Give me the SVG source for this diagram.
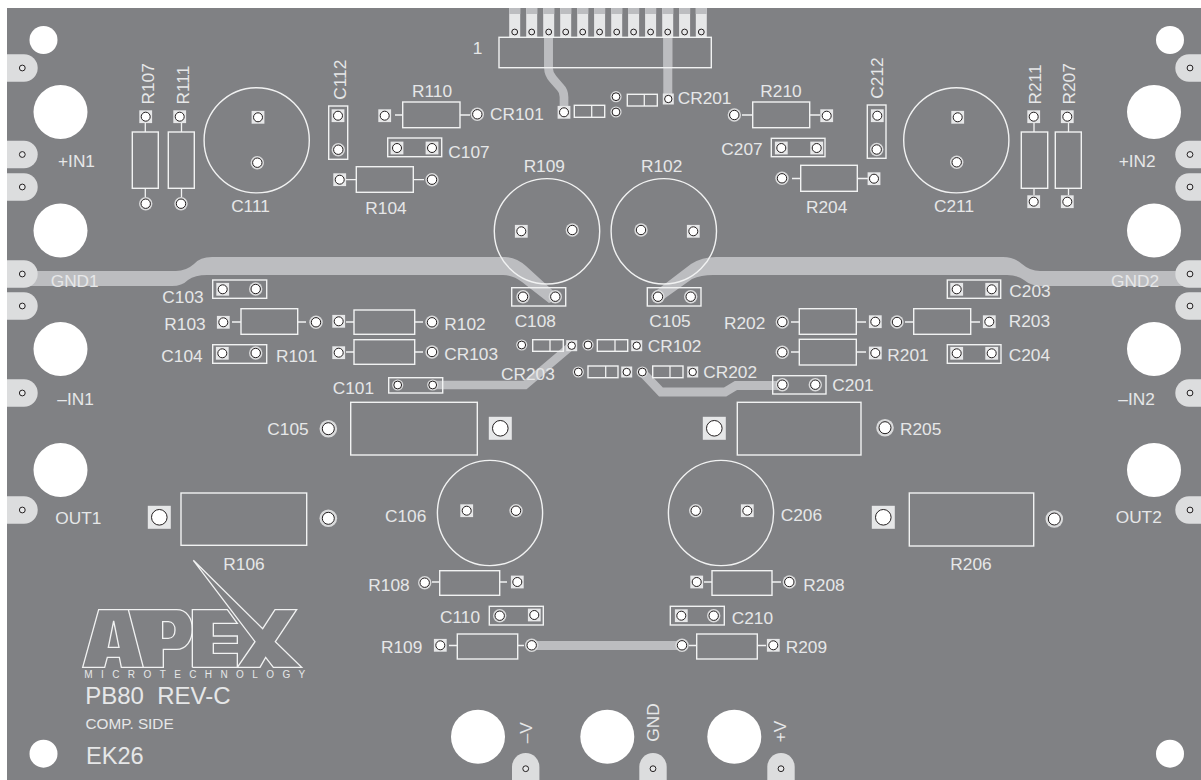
<svg xmlns="http://www.w3.org/2000/svg" width="1201" height="780" viewBox="0 0 1201 780">
<style>
text{font-family:"Liberation Sans",Arial,sans-serif;font-size:17.3px;fill:#e6e7e8;white-space:pre}
.m{text-anchor:middle}
.b{fill:none;stroke:#f1f2f2;stroke-width:1.4}
.t{fill:none;stroke:#bcbdc0}
.f{fill:#bcbdc0}
.tab{fill:#dcddde}
.h{fill:#fff}
.i{fill:#fff;stroke:#231f20;stroke-width:1}
.n{fill:#e6e7e8;stroke:#231f20;stroke-width:1}
.l{fill:none;stroke:#f1f2f2;stroke-width:1.3}
</style>
<defs>
<g id="o"><circle r="6.7" fill="#d9dadb"/><circle r="4.7" class="i"/></g>
<g id="s"><rect x="-6.4" y="-6.4" width="12.8" height="12.8" fill="#e6e7e8"/><circle r="4.5" class="i"/></g>
<g id="p"><circle r="5.6" fill="#d9dadb"/><circle r="3.9" class="i"/></g>
<g id="q"><rect x="-5.5" y="-5.5" width="11" height="11" fill="#e6e7e8"/><circle r="3.7" class="i"/></g>
<g id="O"><circle r="8.8" fill="#d9dadb"/><circle r="6" class="i"/></g>
<g id="S"><rect x="-11.5" y="-11.5" width="23" height="23" fill="#e6e7e8"/><circle r="7.8" class="i"/></g>
<g id="c"><circle r="2.9" class="n"/></g>
<path id="tl" class="tab" d="M7 -13.7H24A13.7 13.7 0 0 1 24 13.7H7Z"/>
<path id="tr" class="tab" d="M1201 -13.7H1189A13.7 13.7 0 0 0 1189 13.7H1201Z"/>
<path id="tb" class="tab" d="M-13.7 27V-2A13.7 13.7 0 0 1 13.7 -2V27Z"/>
<g id="pin"><rect x="-5.5" y="8" width="11" height="29" fill="#e6e7e8"/><rect x="-5.5" y="8" width="11" height="6" fill="#bcbdc0"/></g>
</defs>
<rect width="1201" height="780" fill="#fff"/>
<rect x="7" y="8" width="1194" height="772" fill="#808184"/>

<g id="connectors">
<path class="f" d="M22 271H176Q186 271 194 264Q200 257 212 257H505Q516 257 526 266L561 298L549 303L522 282Q513 275 503 275H207Q195 275 188 280Q182 286 172 286H22Z"/>
<path class="f" d="M1185 271H1040Q1030 271 1022 264Q1014 257 1003 257H716Q702 257 691 264L653 293L661 301L692 279Q701 275 713 275H1007Q1017 275 1024 280Q1031 286 1042 286H1185Z"/>
<path class="t" stroke-width="8.7" d="M548.5 36V68Q548.5 74 553 79L560 87Q564 91 564 97V112"/>
<path class="t" stroke-width="9" d="M667.8 36V99"/>
<path class="t" stroke-width="8.5" d="M432 385H525L571 346"/>
<path class="t" stroke-width="9" d="M642 372L661 392H725L736 385.5H782"/>
<path class="t" stroke-width="9" d="M531.7 645.5H682"/>
</g>

<g id="board-holes">
<circle class="h" cx="43.5" cy="40" r="14"/><circle class="h" cx="43.5" cy="753.7" r="14"/>
<circle class="h" cx="1170" cy="40" r="14"/><circle class="h" cx="1170" cy="753.7" r="14"/>
<circle class="h" cx="60.5" cy="112" r="27"/><circle class="h" cx="60.5" cy="230.5" r="27"/><circle class="h" cx="60.5" cy="349" r="27"/><circle class="h" cx="60.5" cy="470" r="27"/>
<circle class="h" cx="1154" cy="112" r="27"/><circle class="h" cx="1154" cy="230.5" r="27"/><circle class="h" cx="1154" cy="349" r="27"/><circle class="h" cx="1154" cy="470" r="27"/>
<circle class="h" cx="478" cy="736.7" r="27"/><circle class="h" cx="607.3" cy="736.7" r="27"/><circle class="h" cx="734.3" cy="736.7" r="27"/>
</g>

<g id="edge-tabs">
<use href="#tl" y="68"/><use href="#tl" y="154.5"/><use href="#tl" y="187"/><use href="#tl" y="274"/><use href="#tl" y="306"/><use href="#tl" y="393"/><use href="#tl" y="510"/>
<use href="#tr" y="68"/><use href="#tr" y="154.5"/><use href="#tr" y="187"/><use href="#tr" y="274"/><use href="#tr" y="306"/><use href="#tr" y="393"/><use href="#tr" y="510"/>
<use href="#tb" x="525.7" y="768.7"/><use href="#tb" x="653" y="768.7"/><use href="#tb" x="781" y="768.7"/>
<use href="#c" x="22.3" y="68"/><use href="#c" x="22.3" y="154.5"/><use href="#c" x="22.3" y="187"/><use href="#c" x="22.3" y="274"/><use href="#c" x="22.3" y="306"/><use href="#c" x="22.3" y="393"/><use href="#c" x="22.3" y="510"/>
<use href="#c" x="1190" y="68"/><use href="#c" x="1190" y="154.5"/><use href="#c" x="1190" y="187"/><use href="#c" x="1190" y="274"/><use href="#c" x="1190" y="306"/><use href="#c" x="1190" y="393"/><use href="#c" x="1190" y="510"/>
<use href="#c" x="525.7" y="768.7"/><use href="#c" x="653" y="768.7"/><use href="#c" x="781" y="768.7"/>
</g>

<g id="J1">
<g id="J1-pins">
<use href="#pin" x="514.7"/><use href="#pin" x="531.7"/><use href="#pin" x="548.7"/><use href="#pin" x="565.7"/><use href="#pin" x="582.7"/><use href="#pin" x="599.6"/><use href="#pin" x="616.7"/><use href="#pin" x="633.6"/><use href="#pin" x="650.6"/><use href="#pin" x="667.7"/><use href="#pin" x="684.6"/><use href="#pin" x="701.3"/>
<use href="#c" x="514.7" y="32"/><use href="#c" x="531.7" y="32"/><use href="#c" x="548.7" y="32"/><use href="#c" x="565.7" y="32"/><use href="#c" x="582.7" y="32"/><use href="#c" x="599.6" y="32"/><use href="#c" x="616.7" y="32"/><use href="#c" x="633.6" y="32"/><use href="#c" x="650.6" y="32"/><use href="#c" x="667.7" y="32"/><use href="#c" x="684.6" y="32"/><use href="#c" x="701.3" y="32"/>
</g>
<path class="t" stroke-width="8.7" d="M548.5 37.5V67.5"/><path class="t" stroke-width="9" d="M667.8 37.5V67.5"/>
<rect class="b" x="499" y="37.3" width="212.3" height="30.4"/>
<text x="472.7" y="54">1</text>
</g>

<g id="R107"><rect class="b" x="132.3" y="132" width="26" height="56.3"/><path class="l" d="M145.3 123V132M145.3 188V197"/><use href="#s" x="145.7" y="116.7"/><use href="#o" x="145.7" y="203.7"/><text transform="translate(154 104.5) rotate(-90)">R107</text></g>
<g id="R111"><rect class="b" x="168.3" y="132" width="26" height="56.3"/><path class="l" d="M181.5 123V132M181.5 188V197"/><use href="#s" x="179.7" y="116.7"/><use href="#o" x="181" y="203.7"/><text transform="translate(189 104.5) rotate(-90)">R111</text></g>
<g id="C111"><circle class="b" cx="256.7" cy="140.3" r="52.6"/><use href="#s" x="258" y="117.3"/><use href="#o" x="257.3" y="162.7"/><text class="m" x="250.5" y="212">C111</text></g>
<g id="C112"><rect class="b" x="328.7" y="106" width="19" height="53.3"/><use href="#s" x="338" y="115.7"/><use href="#o" x="338.3" y="149.7"/><text transform="translate(346 99.7) rotate(-90)">C112</text></g>
<g id="R110"><rect class="b" x="402.7" y="102" width="57.3" height="25.7"/><path class="l" d="M395 115H402.7M460 115H470"/><use href="#s" x="384.7" y="115.7"/><use href="#o" x="477.3" y="114.3"/><text class="m" x="432" y="97.3">R110</text></g>
<g id="C107"><rect class="b" x="387.7" y="138" width="54" height="18.7"/><use href="#s" x="397" y="148"/><use href="#s" x="432" y="148"/><text x="448.3" y="158">C107</text></g>
<g id="R104"><rect class="b" x="356.3" y="166.7" width="57" height="25.6"/><path class="l" d="M346 179.7H356.3M413.3 179.7H424"/><use href="#s" x="339.7" y="179.7"/><use href="#o" x="432" y="179.7"/><text class="m" x="386" y="214">R104</text></g>
<g id="CR101"><rect class="b" x="574.3" y="105.3" width="30.4" height="12"/><path class="l" d="M591.7 105.3V117.3"/><use href="#s" x="564" y="112.3"/><use href="#p" x="616" y="112"/><text x="490" y="120">CR101</text></g>
<g id="CR201"><rect class="b" x="627.3" y="94.3" width="30" height="11.7"/><path class="l" d="M644.3 94.3V106"/><use href="#p" x="616" y="96.7"/><use href="#q" x="668.3" y="99"/><text x="677.7" y="103.7">CR201</text></g>
<g id="R210"><rect class="b" x="752.7" y="102" width="57" height="25.7"/><path class="l" d="M742 115H752.7M809.7 115H820"/><use href="#o" x="734.3" y="115"/><use href="#s" x="826.7" y="115.7"/><text class="m" x="781" y="97">R210</text></g>
<g id="C207"><rect class="b" x="771.3" y="138.3" width="53.7" height="18.4"/><use href="#s" x="781.3" y="148"/><use href="#s" x="816.7" y="148"/><text x="721.3" y="155">C207</text></g>
<g id="R204"><rect class="b" x="800.7" y="165.3" width="56.6" height="26"/><path class="l" d="M792 178.5H800.7M857.3 178.5H868"/><use href="#o" x="782" y="178.3"/><use href="#s" x="874" y="178.7"/><text class="m" x="826.7" y="212.7">R204</text></g>
<g id="C212"><rect class="b" x="867.3" y="105" width="18.7" height="53.3"/><use href="#s" x="877.3" y="115.7"/><use href="#o" x="876.7" y="149.5"/><text transform="translate(883 98.7) rotate(-90)">C212</text></g>
<g id="C211"><circle class="b" cx="956.3" cy="140.3" r="52.6"/><use href="#s" x="957.7" y="117.3"/><use href="#o" x="956.7" y="162.3"/><text class="m" x="954" y="212">C211</text></g>
<g id="R211"><rect class="b" x="1021.3" y="132" width="26.4" height="56.3"/><path class="l" d="M1034 123V132M1034 188V195"/><use href="#s" x="1033.7" y="116.7"/><use href="#s" x="1033.7" y="201.7"/><text transform="translate(1040.7 104.5) rotate(-90)">R211</text></g>
<g id="R207"><rect class="b" x="1055.3" y="132" width="26" height="56.3"/><path class="l" d="M1068.5 123V132M1068.5 188V195"/><use href="#s" x="1067.3" y="116.7"/><use href="#s" x="1067.3" y="201.7"/><text transform="translate(1075 104.5) rotate(-90)">R207</text></g>

<g id="R109-top"><circle class="b" cx="547" cy="231.3" r="52.7"/><use href="#s" x="521.3" y="231.3"/><use href="#o" x="572.3" y="230"/><text class="m" x="544.3" y="171.7">R109</text></g>
<g id="R102-top"><circle class="b" cx="663.8" cy="231.3" r="52.7"/><use href="#o" x="641" y="230"/><use href="#s" x="693.3" y="231.3"/><text class="m" x="661.7" y="171.7">R102</text></g>
<g id="C108"><rect class="b" x="511.7" y="287.7" width="54" height="18.3"/><use href="#o" x="523" y="296.7"/><use href="#o" x="555.3" y="296.7"/><text class="m" x="535.3" y="327.3">C108</text></g>
<g id="C105-top"><rect class="b" x="647.3" y="287.7" width="53.7" height="18.3"/><use href="#o" x="658" y="296.7"/><use href="#o" x="690.7" y="296.7"/><text class="m" x="670" y="327.3">C105</text></g>

<g id="C103"><rect class="b" x="212.7" y="280" width="54" height="18.3"/><use href="#s" x="222.7" y="289.3"/><use href="#o" x="255.7" y="289"/><text x="162.3" y="302.7">C103</text></g>
<g id="R103"><rect class="b" x="241" y="308.7" width="56.7" height="25.6"/><path class="l" d="M232 322H241M297.7 322H306"/><use href="#s" x="223.3" y="322.3"/><use href="#o" x="316" y="322.3"/><text x="164.3" y="330">R103</text></g>
<g id="R102"><rect class="b" x="354" y="310" width="60.7" height="24.3"/><path class="l" d="M346 322H354M414.7 322H423"/><use href="#s" x="338.7" y="321.3"/><use href="#o" x="432" y="322.3"/><text x="444.3" y="330">R102</text></g>
<g id="R101"><rect class="b" x="354" y="339.7" width="60.7" height="24.6"/><path class="l" d="M346 352H354M414.7 352H423"/><use href="#s" x="338.7" y="352.7"/><use href="#o" x="432" y="352"/><text x="276" y="362.3">R101</text><text x="444.3" y="360">CR103</text></g>
<g id="C104"><rect class="b" x="212.7" y="344.7" width="54" height="18.6"/><use href="#s" x="222.3" y="353.3"/><use href="#o" x="255.7" y="353"/><text x="161.3" y="362">C104</text></g>
<g id="C101"><rect class="b" x="388.7" y="377.7" width="54" height="15.3"/><use href="#p" x="397.7" y="385"/><use href="#p" x="432.7" y="385"/><text x="332.7" y="394">C101</text></g>

<g id="CR203"><rect class="b" x="532.7" y="339.7" width="30.6" height="11.6"/><path class="l" d="M550 339.7V351.3"/><use href="#p" x="521.7" y="345"/><use href="#q" x="571.7" y="345.7"/><text x="501" y="380">CR203</text></g>
<g id="CR102"><rect class="b" x="597.3" y="339.7" width="30.4" height="11.6"/><path class="l" d="M615 339.7V351.3"/><use href="#p" x="588" y="345"/><use href="#q" x="636.7" y="345.7"/><text x="647.7" y="351.7">CR102</text></g>
<g id="CR103"><rect class="b" x="588" y="366" width="30" height="11.7"/><path class="l" d="M605.7 366V377.7"/><use href="#p" x="578.3" y="372"/><use href="#q" x="626.7" y="372"/></g>
<g id="CR202"><rect class="b" x="652.7" y="366" width="30.3" height="11.7"/><path class="l" d="M670 366V377.7"/><use href="#p" x="642.3" y="372"/><use href="#q" x="692.7" y="372"/><text x="703.3" y="378.3">CR202</text></g>

<g id="C201"><rect class="b" x="772.7" y="375.7" width="53.3" height="18.3"/><use href="#o" x="782.3" y="384.7"/><use href="#o" x="815.3" y="384.7"/><text x="832.3" y="391">C201</text></g>
<g id="R202"><rect class="b" x="799.3" y="308.7" width="57" height="25.6"/><path class="l" d="M791 322H799.3M856.3 322H866"/><use href="#o" x="782.3" y="322"/><use href="#s" x="875.3" y="321.7"/><text x="724" y="329">R202</text></g>
<g id="R203"><rect class="b" x="913.7" y="308.7" width="57" height="25.6"/><path class="l" d="M905 322H913.7M970.7 322H980"/><use href="#o" x="897" y="322"/><use href="#s" x="989.3" y="321.7"/><text x="1008.7" y="327.3">R203</text></g>
<g id="R201"><rect class="b" x="799.3" y="339.3" width="57" height="25.7"/><path class="l" d="M791 352H799.3M856.3 352H866"/><use href="#o" x="782.3" y="352.3"/><use href="#s" x="875.3" y="353"/><text x="887.3" y="361">R201</text></g>
<g id="C203"><rect class="b" x="947.3" y="280" width="53.4" height="18.3"/><use href="#s" x="956.7" y="289.3"/><use href="#s" x="991.7" y="289.3"/><text x="1009.3" y="296.7">C203</text></g>
<g id="C204"><rect class="b" x="947.3" y="344.7" width="53.7" height="18.6"/><use href="#s" x="956.7" y="353.3"/><use href="#s" x="991.7" y="353.3"/><text x="1008.7" y="361">C204</text></g>

<g id="C105"><rect class="b" x="350.7" y="402.3" width="126.6" height="52.7"/><use href="#O" x="328.3" y="428.7"/><use href="#S" x="500.3" y="428.3"/><text x="267.3" y="435.3">C105</text></g>
<g id="R205"><rect class="b" x="737.3" y="402.3" width="123.7" height="52.7"/><use href="#S" x="714.3" y="428.3"/><use href="#O" x="885" y="427.7"/><text x="900" y="434.7">R205</text></g>
<g id="R106"><rect class="b" x="181" y="493" width="125.7" height="52.3"/><use href="#S" x="159.3" y="517.3"/><use href="#O" x="328.3" y="518.3"/><text class="m" x="244" y="570">R106</text></g>
<g id="R206"><rect class="b" x="909.3" y="493" width="124.4" height="53"/><use href="#S" x="883.3" y="517.3"/><use href="#O" x="1054.3" y="519"/><text class="m" x="971" y="570">R206</text></g>

<g id="C106"><circle class="b" cx="490" cy="513" r="52.6"/><use href="#s" x="466.7" y="510.7"/><use href="#o" x="516" y="510.7"/><text x="385" y="521.7">C106</text></g>
<g id="C206"><circle class="b" cx="721" cy="513" r="52.6"/><use href="#o" x="695.7" y="510.7"/><use href="#s" x="747.3" y="510.7"/><text x="780.7" y="520.7">C206</text></g>
<g id="R108"><rect class="b" x="439.7" y="570.7" width="60" height="24.6"/><path class="l" d="M432 582H439.7M499.7 582H507"/><use href="#o" x="424.7" y="582.7"/><use href="#s" x="517.3" y="582"/><text x="368.3" y="590.7">R108</text></g>
<g id="R208"><rect class="b" x="712" y="570.7" width="60" height="24.6"/><path class="l" d="M704 582H712M772 582H781"/><use href="#s" x="696.7" y="582"/><use href="#o" x="789.3" y="582"/><text x="803.3" y="590.7">R208</text></g>
<g id="C110"><rect class="b" x="489.3" y="606.3" width="54" height="18.7"/><use href="#o" x="499.7" y="615.7"/><use href="#s" x="534.3" y="615"/><text x="440" y="622.7">C110</text></g>
<g id="C210"><rect class="b" x="670.3" y="606.3" width="54" height="18.7"/><use href="#s" x="681.3" y="615.7"/><use href="#o" x="713.7" y="615.7"/><text x="731.7" y="624">C210</text></g>
<g id="R109"><rect class="b" x="457.3" y="634" width="60.4" height="25"/><path class="l" d="M449 645.5H457.3M517.7 645.5H524"/><use href="#s" x="440.3" y="645.3"/><use href="#o" x="531.7" y="645.3"/><text x="381" y="653.3">R109</text></g>
<g id="R209"><rect class="b" x="696.7" y="634" width="60.6" height="25"/><path class="l" d="M689 645.5H696.7M757.3 645.5H766"/><use href="#o" x="682" y="645.3"/><use href="#s" x="773.3" y="645.3"/><text x="785.7" y="653.3">R209</text></g>

<g id="labels">
<text x="58" y="166.7">+IN1</text><text x="1118.7" y="166.7">+IN2</text>
<text x="50.7" y="286.7">GND1</text><text x="1111" y="286.7">GND2</text>
<text x="57.3" y="405">–IN1</text><text x="1118.3" y="405">–IN2</text>
<text x="55.3" y="524.3">OUT1</text><text x="1115.7" y="523.3">OUT2</text>
<text transform="translate(532.3 743.3) rotate(-90)">–V</text>
<text transform="translate(659.3 741.7) rotate(-90)">GND</text>
<text transform="translate(786 742.3) rotate(-90)">+V</text>
</g>

<g id="logo">
<g fill="none" stroke="#f1f2f2" stroke-width="4" stroke-linejoin="miter" transform="translate(0 540) scale(.33333)">
<path d="M248 382L296 209H385L430 382H364L358 352H322L314 382Z"/>
<path d="M341 243L325 322H357Z"/>
<path d="M385 209H530C560 209 577 235 577 268C577 302 558 328 530 328H490V382H430"/>
<path d="M488 245H505C518 245 525 256 525 270C525 284 518 295 505 295H488Z"/>
<path d="M577 382V209H682L712 250H640V288H712V310H640V340H712V382H577"/>
<path d="M580 61L788 266L825 209H890L826 305L905 382H820L797 352L780 382H712L765 305Z"/>
</g>
<text x="84.3" y="678.3" style="font-size:10px;letter-spacing:8.4px">MICROTECHNOLOGY</text>
<text x="85.2" y="704.3" style="font-size:24px">PB80  REV-C</text>
<text x="85.5" y="729" style="font-size:15.3px">COMP. SIDE</text>
<text x="86" y="764" style="font-size:23.6px">EK26</text>
</g>
</svg>
